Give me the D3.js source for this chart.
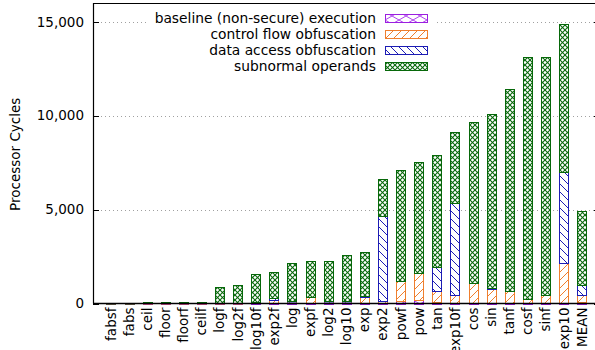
<!DOCTYPE html>
<html>
<head>
<meta charset="utf-8">
<script src="https://cdn.jsdelivr.net/npm/d3@7"></script>
<style>
  body { margin: 0; background: #fff; }
  svg { display: block; }
  text { font-family: "DejaVu Sans", sans-serif; font-size: 13.5px; fill: #000; }
  .key text { font-size: 13.8px; }
</style>
</head>
<body>
<svg id="chart" width="595" height="350"></svg>
<script>
// Math library functions, cycles per call split into stacked components
const categories = ["fabsf", "fabs", "ceil", "floor", "floorf", "ceilf", "logf", "log2f", "log10f",
  "exp2f", "log", "expf", "log2", "log10", "exp", "exp2", "powf", "pow", "tan", "exp10f",
  "cos", "sin", "tanf", "cosf", "sinf", "exp10", "MEAN"];

const baseline    = [10, 10, 15, 15, 15, 15, 20, 25, 30, 30, 40, 40, 40, 45, 50, 40, 150, 190, 100, 40, 40, 40, 40, 30, 40, 50, 60];
const controlFlow = [5, 5, 10, 10, 10, 10, 20, 20, 40, 180, 90, 320, 90, 85, 280, 90, 1065, 1450, 580, 390, 1035, 715, 640, 210, 395, 2090, 375];
const dataAccess  = [0, 0, 0, 0, 0, 0, 0, 0, 0, 60, 10, 0, 10, 10, 50, 4545, 0, 0, 1245, 4920, 0, 85, 0, 0, 0, 4845, 565];
const subnormal   = [25, 25, 75, 75, 65, 65, 820, 945, 1480, 1420, 2030, 1920, 2120, 2440, 2360, 1935, 5895, 5910, 5985, 3780, 8585, 9270, 10725, 12870, 12675, 7895, 3910];

const seriesLabels = ["baseline (non-secure) execution", "control flow obfuscation",
  "data access obfuscation", "subnormal operands"];
const yTickValues = [0, 5000, 10000, 15000];

const seriesKeys = ["baseline", "controlFlow", "dataAccess", "subnormal"];
const seriesColors = ["#9b1fe0", "#ef7f2e", "#1c1cb4", "#07680a"];
const seriesPatternIds = ["pat-cross", "pat-fwd", "pat-back", "pat-fine"];

const svg = d3.select("#chart");
const plot = { left: 93, top: 3, bottom: 303.5, right: 600 };

const x = d3.scaleLinear().domain([-1, 27]).range([plot.left, plot.right]);
const y = d3.scaleLinear().domain([0, 16000]).range([plot.bottom, plot.top]);

// Fill patterns for the four components
const defs = svg.append("defs");
function pattern(id, size, color, paths, w) {
  const p = defs.append("pattern").attr("id", id).attr("patternUnits", "userSpaceOnUse")
    .attr("width", size[0]).attr("height", size[1]);
  p.append("rect").attr("width", size[0]).attr("height", size[1]).attr("fill", "#fff");
  paths.forEach(d => p.append("path").attr("d", d).attr("stroke", color)
    .attr("stroke-width", w).attr("fill", "none"));
}
pattern("pat-cross", [14, 8], "#b040f0", ["M0,0L14,8", "M0,8L14,0"], 1);
pattern("pat-fwd", [8, 8], seriesColors[1], ["M0,8L8,0", "M-1,1L1,-1", "M7,9L9,7"], 1);
pattern("pat-back", [8, 8], seriesColors[2], ["M0,0L8,8", "M-1,7L1,9", "M7,-1L9,1"], 1);
pattern("pat-fine", [5, 5], seriesColors[3], ["M0,0L5,5", "M0,5L5,0"], 1.1);

// Horizontal grid
svg.append("g").selectAll("line").data(yTickValues.filter(v => v > 0)).join("line")
  .attr("x1", plot.left).attr("x2", plot.right)
  .attr("y1", d => Math.round(y(d)) + 0.5).attr("y2", d => Math.round(y(d)) + 0.5)
  .attr("stroke", "#a0a0a0").attr("stroke-width", 1).attr("stroke-dasharray", "1,3");

// Stacked bars
const rows = categories.map((c, i) => ({
  name: c, i,
  baseline: baseline[i], controlFlow: controlFlow[i],
  dataAccess: dataAccess[i], subnormal: subnormal[i]
}));
const stacked = d3.stack().keys(seriesKeys)(rows);
const barW = x(0.52) - x(0);

const layers = svg.append("g").selectAll("g").data(stacked).join("g");
layers.selectAll("rect").data((s, k) => s.map(d => ({ d, k }))).join("rect")
  .filter(o => o.d[1] - o.d[0] > 0)
  .attr("x", o => Math.round(x(o.d.data.i) - barW / 2) + 0.5)
  .attr("width", Math.round(barW))
  .attr("y", o => Math.round(y(o.d[1])) + 0.5)
  .attr("height", o => Math.max(0.5, Math.round(y(o.d[0])) - Math.round(y(o.d[1]))))
  .attr("fill", o => `url(#${seriesPatternIds[o.k]})`)
  .attr("stroke", o => seriesColors[o.k])
  .attr("stroke-width", 1);

// Frame
svg.append("path")
  .attr("d", `M${plot.left + 0.5},${plot.bottom}V${plot.top + 0.5}H${plot.right}`)
  .attr("fill", "none").attr("stroke", "#000").attr("stroke-width", 1.2);
svg.append("line").attr("x1", plot.left).attr("x2", plot.right)
  .attr("y1", plot.bottom).attr("y2", plot.bottom).attr("stroke", "#000").attr("stroke-width", 1.5);

// Y axis ticks (inward, mirrored on the right) and labels
const fmt = d3.format(",");
const yt = svg.append("g");
yTickValues.forEach(v => {
  const yy = Math.round(y(v)) + 0.5;
  yt.append("line").attr("x1", plot.left).attr("x2", plot.left + 6).attr("y1", yy).attr("y2", yy)
    .attr("stroke", "#000");
  yt.append("line").attr("x1", plot.right - 6).attr("x2", plot.right).attr("y1", yy).attr("y2", yy)
    .attr("stroke", "#000");
  yt.append("text").attr("x", plot.left - 9).attr("y", y(v)).attr("dy", "0.35em")
    .attr("text-anchor", "end").text(fmt(v));
});

svg.append("text").attr("transform", `translate(20,${(plot.top + plot.bottom) / 2 + 1}) rotate(-90)`)
  .attr("text-anchor", "middle").text("Processor Cycles");

// Category labels, rotated
svg.append("g").selectAll("text").data(categories).join("text")
  .attr("transform", (d, i) => `translate(${x(i)},${plot.bottom + 4}) rotate(-90)`)
  .attr("dy", "0.35em").attr("text-anchor", "end").text(d => d);

// Key
const key = svg.append("g").attr("class", "key");
key.append("rect").attr("x", 146).attr("y", 7).attr("width", 288).attr("height", 68).attr("fill", "#fff");
seriesLabels.forEach((lab, k) => {
  const ry = 14 + k * 16;
  key.append("text").attr("x", 376).attr("y", ry + 4).attr("dy", "0.35em")
    .attr("text-anchor", "end").text(lab);
  key.append("rect").attr("x", 385.5).attr("y", ry + 0.5).attr("width", 42).attr("height", 8)
    .attr("fill", `url(#${seriesPatternIds[k]})`).attr("stroke", seriesColors[k]);
});
</script>
</body>
</html>
